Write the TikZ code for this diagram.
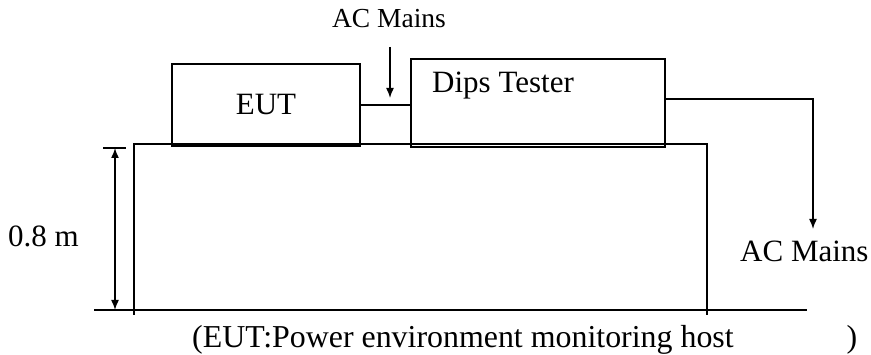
\documentclass[tikz,border=0pt]{standalone}
\usepackage{fontspec}
\setmainfont{Liberation Serif}
\usetikzlibrary{arrows.meta}
\tikzset{
  boxnode/.style={draw, line width=1.5pt, inner sep=0pt, outer sep=0pt},
  wire/.style={line width=1.5pt},
  arr/.style={line width=1.5pt, -{Latex[length=10pt,width=8pt]}},
  dimarr/.style={line width=1.5pt, {Latex[length=10pt,width=8pt]}-{Latex[length=10pt,width=8pt]}},
  bigtxt/.style={inner sep=0pt, font=\fontsize{31}{36}\selectfont},
  captxt/.style={inner sep=0pt, font=\fontsize{31.9}{37}\selectfont},
  smalltxt/.style={inner sep=0pt, font=\fontsize{27.5}{32}\selectfont},
}
\begin{document}
\begin{tikzpicture}[x=1pt,y=-1pt]
\useasboundingbox (0,0) rectangle (871,355);
\fill[white] (0,0) rectangle (871,355);
% table and ground
\draw[wire] (134,315) -- (134,144) -- (707,144) -- (707,315);
\draw[line width=2.4pt] (94,310) -- (807,310);
% boxes
\node[boxnode, minimum width=188pt, minimum height=82pt, bigtxt] (eut) at (266,105) {EUT};
\node[boxnode, minimum width=254pt, minimum height=88pt] (dips) at (538,103) {};
\node[bigtxt, anchor=base west] (dipslbl) at (432,93) {Dips Tester};
% connection
\draw[wire] (eut.east) -- (eut.east -| dips.west);
% top AC mains
\node[smalltxt, anchor=base] (actop) at (389,28) {AC Mains};
\coordinate (actopstart) at (390,47);
\coordinate (actopend) at (390,98);
\draw[arr] (actopstart) -- (actopend);
% right AC mains
\node[bigtxt, anchor=base west] (acright) at (740,262) {AC Mains};
\coordinate (dipsout) at (dips.east |- 0,99);
\coordinate (corner) at (813,99);
\coordinate (acrightend) at (813,229);
\draw[arr] (dipsout) -- (corner) -- (acrightend);
% dimension
\coordinate (dimtop) at (115,148);
\coordinate (dimbot) at (115,310);
\draw[wire] (103,148) -- (126,148);
\draw[dimarr] (dimtop) -- (dimbot);
\node[bigtxt, anchor=base west] (height) at (8,247) {0.8 m};
% caption
\node[captxt, anchor=base west] (caption) at (192,348) {\makebox[665pt][l]{(EUT:Power environment monitoring host\hfill)}};
\end{tikzpicture}
\end{document}
